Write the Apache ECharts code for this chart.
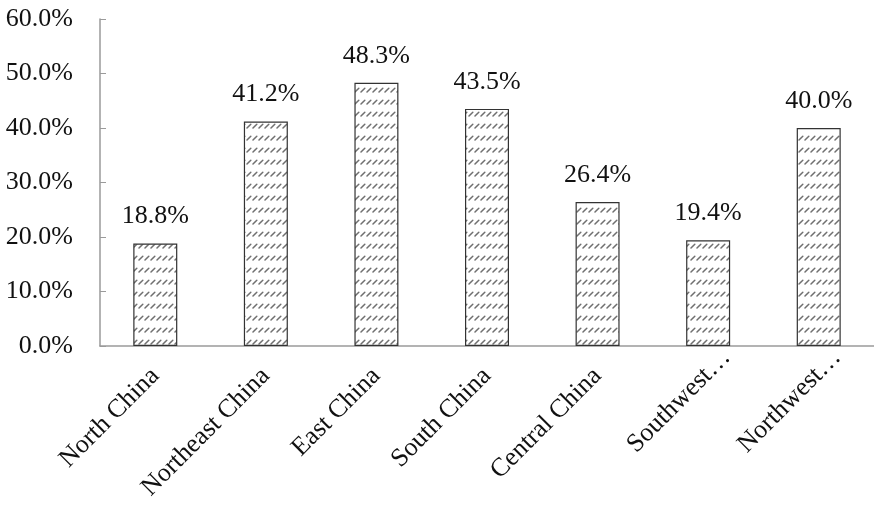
<!DOCTYPE html>
<html>
<head>
<meta charset="utf-8">
<script src="https://cdn.jsdelivr.net/npm/echarts@6/dist/echarts.min.js"></script>
<style>
  html, body { margin: 0; padding: 0; background: #fff; }
  #chart { width: 874px; height: 510px; }
</style>
</head>
<body>
<div id="chart"></div>
<script>
// Share by region (%)
const regions = ['North China', 'Northeast China', 'East China', 'South China', 'Central China', 'Southwest…', 'Northwest…'];
const shares = [18.8, 41.2, 48.3, 43.5, 26.4, 19.4, 40.0];
const yTicks = { min: 0, max: 60, interval: 10 };

// Diagonal-dash hatch used to fill the bars
function makeHatch() {
  const c = document.createElement('canvas');
  c.width = 6; c.height = 12;
  const g = c.getContext('2d');
  g.fillStyle = '#ffffff';
  g.fillRect(0, 0, 6, 12);
  g.strokeStyle = '#707070';
  g.lineWidth = 1.5;
  g.lineCap = 'round';
  g.beginPath();
  g.moveTo(1, 8);
  g.lineTo(4.8, 4.2);
  g.stroke();
  return c;
}

// Shortened names sit a little further out along the slant
const categoryItems = regions.map(name => name.endsWith('…')
  ? { value: name, textStyle: { padding: [0, -26, 0, 0] } }
  : name);

const FONT = '"Liberation Serif", "Times New Roman", serif';
const chart = echarts.init(document.getElementById('chart'), null, { renderer: 'canvas' });
chart.setOption({
  animation: false,
  backgroundColor: '#ffffff',
  grid: { left: 100, right: 0, top: 19, bottom: 164, containLabel: false },
  xAxis: {
    type: 'category',
    data: categoryItems,
    axisLine: { lineStyle: { color: '#9a9a9a', width: 1.5 } },
    axisTick: { inside: true, length: 6, lineStyle: { color: '#9a9a9a' } },
    axisLabel: {
      rotate: 45, interval: 0, margin: 26,
      fontFamily: FONT, fontSize: 26, color: '#111'
    }
  },
  yAxis: {
    type: 'value',
    min: yTicks.min, max: yTicks.max, interval: yTicks.interval,
    splitLine: { show: false },
    axisLine: { show: true, lineStyle: { color: '#9a9a9a', width: 1.5 } },
    axisTick: { show: true, inside: true, length: 6, lineStyle: { color: '#9a9a9a' } },
    axisLabel: {
      margin: 27, fontFamily: FONT, fontSize: 26, color: '#111',
      formatter: v => v.toFixed(1) + '%'
    }
  },
  series: [{
    type: 'bar',
    data: shares,
    barWidth: 44,
    itemStyle: {
      color: { image: makeHatch(), repeat: 'repeat' },
      borderColor: '#333',
      borderWidth: 1.2
    },
    label: {
      show: true, position: 'top', distance: 14,
      fontFamily: FONT, fontSize: 26, color: '#111',
      formatter: p => p.value.toFixed(1) + '%'
    }
  }]
});
</script>
</body>
</html>
